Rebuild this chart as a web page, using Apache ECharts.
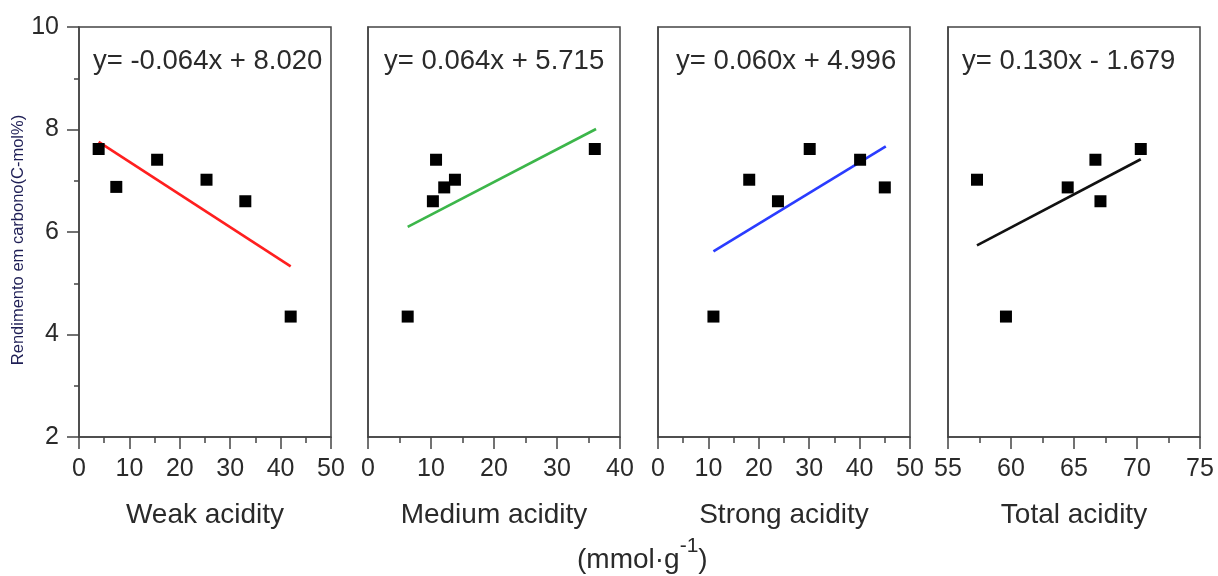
<!DOCTYPE html>
<html>
<head>
<meta charset="utf-8">
<script src="https://cdn.jsdelivr.net/npm/echarts@6/dist/echarts.min.js"></script>
<style>
html,body{margin:0;padding:0;background:#fff;}
#chart{width:1218px;height:576px;}
</style>
</head>
<body>
<div id="chart"></div>
<script>
// ---- data ----
var panelNames = ['Weak acidity', 'Medium acidity', 'Strong acidity', 'Total acidity'];
var equations = ['y= -0.064x + 8.020', 'y= 0.064x + 5.715', 'y= 0.060x + 4.996', 'y= 0.130x - 1.679'];
var yieldValues = [7.62, 6.88, 7.41, 7.02, 6.60, 4.35];
var weakX = [3.9, 7.4, 15.5, 25.3, 33.0, 42.0];
var mediumX = [10.8, 12.1, 36.0, 13.8, 10.3, 6.3];
var mediumY = [7.41, 6.87, 7.62, 7.02, 6.60, 4.35];
var strongX = [30.1, 45.0, 40.1, 18.1, 23.8, 11.0];
var strongY = [7.62, 6.87, 7.41, 7.02, 6.60, 4.35];
var totalX = [70.3, 64.5, 66.7, 57.3, 67.1, 59.6];
var totalY = [7.62, 6.87, 7.41, 7.02, 6.60, 4.35];
var weakFit = [[3.9, 7.76], [42.0, 5.33]];
var mediumFit = [[6.3, 6.10], [36.2, 8.01]];
var strongFit = [[11.0, 5.62], [45.2, 7.67]];
var totalFit = [[57.3, 5.74], [70.3, 7.42]];
var xRanges = [[0, 50, 10], [0, 40, 10], [0, 50, 10], [55, 75, 5]];
var yRange = [2, 10, 2];
var yAxisTitle = 'Rendimento em carbono(C-mol%)';
var unitLabel = '(mmol·g';
var unitSup = '-1';
var unitClose = ')';

// ---- build chart ----
var FONT = '"Liberation Sans", Arial, sans-serif';
var txtColor = '#2a2a2a';
var axisColor = '#444';
var fitColors = ['#ff1f1f', '#3cb64a', '#2a3cff', '#111111'];
var lefts = [79, 368, 658, 948];
var eqOffsets = [14, 16, 18, 14];
var scatterX = [weakX, mediumX, strongX, totalX];
var scatterY = [yieldValues, mediumY, strongY, totalY];
var fits = [weakFit, mediumFit, strongFit, totalFit];

function pairs(xs, ys) {
  var out = [];
  for (var i = 0; i < xs.length; i++) out.push([xs[i], ys[i]]);
  return out;
}

var grids = [], xAxes = [], yAxes = [], series = [], graphics = [];
for (var p = 0; p < 4; p++) {
  grids.push({
    left: lefts[p], top: 27, width: 252, height: 410,
    show: true, borderColor: axisColor, borderWidth: 1.5, backgroundColor: 'transparent'
  });
  xAxes.push({
    gridIndex: p, type: 'value',
    min: xRanges[p][0], max: xRanges[p][1], interval: xRanges[p][2],
    name: panelNames[p], nameLocation: 'middle', nameGap: 64,
    nameTextStyle: {fontSize: 28, color: txtColor, fontFamily: FONT},
    axisLine: {show: true, lineStyle: {color: axisColor, width: 1.5}},
    axisTick: {show: true, inside: false, length: 12, lineStyle: {color: axisColor, width: 1.5}},
    minorTick: {show: true, splitNumber: 2, length: 6, lineStyle: {color: axisColor, width: 1.5}},
    splitLine: {show: false},
    axisLabel: {fontSize: 25, color: txtColor, fontFamily: FONT, margin: 20,
                showMinLabel: true, showMaxLabel: true, hideOverlap: false}
  });
  var yShow = (p === 0);
  yAxes.push({
    gridIndex: p, type: 'value',
    min: yRange[0], max: yRange[1], interval: yRange[2],
    axisLine: {show: true, lineStyle: {color: axisColor, width: 1.5}},
    axisTick: {show: yShow, inside: false, length: 12, lineStyle: {color: axisColor, width: 1.5}},
    minorTick: {show: yShow, splitNumber: 2, length: 5, lineStyle: {color: axisColor, width: 1.5}},
    splitLine: {show: false},
    axisLabel: {show: yShow, fontSize: 25, color: txtColor, fontFamily: FONT, margin: 20}
  });
  series.push({
    type: 'line', xAxisIndex: p, yAxisIndex: p,
    data: fits[p], symbol: 'none', silent: true,
    lineStyle: {color: fitColors[p], width: 2.6}, z: 2
  });
  series.push({
    type: 'scatter', xAxisIndex: p, yAxisIndex: p,
    data: pairs(scatterX[p], scatterY[p]),
    symbol: 'rect', symbolSize: 12,
    itemStyle: {color: '#000', opacity: 1}, z: 3
  });
  graphics.push({
    type: 'text', left: lefts[p] + eqOffsets[p], top: 47,
    style: {text: equations[p], font: '27.5px ' + FONT, fill: txtColor}
  });
}

graphics.push({
  type: 'text', x: 18, y: 240, rotation: Math.PI / 2,
  style: {text: yAxisTitle, font: '16.5px ' + FONT, fill: '#1e1e55',
          textAlign: 'center', textVerticalAlign: 'middle'}
});

graphics.push({
  type: 'text', left: 577, top: 536,
  style: {
    text: '{a|' + unitLabel + '}{s|' + unitSup + '}{a|' + unitClose + '}',
    rich: {
      a: {fontSize: 28, fontFamily: FONT, fill: txtColor, color: txtColor, verticalAlign: 'bottom', lineHeight: 38},
      s: {fontSize: 21, fontFamily: FONT, fill: txtColor, color: txtColor, verticalAlign: 'top', lineHeight: 38, padding: [0, 0, 14, 0]}
    }
  }
});

var chart = echarts.init(document.getElementById('chart'), null, {renderer: 'canvas'});
chart.setOption({
  backgroundColor: '#fff',
  animation: false,
  grid: grids,
  xAxis: xAxes,
  yAxis: yAxes,
  series: series,
  graphic: graphics
});
</script>
</body>
</html>
